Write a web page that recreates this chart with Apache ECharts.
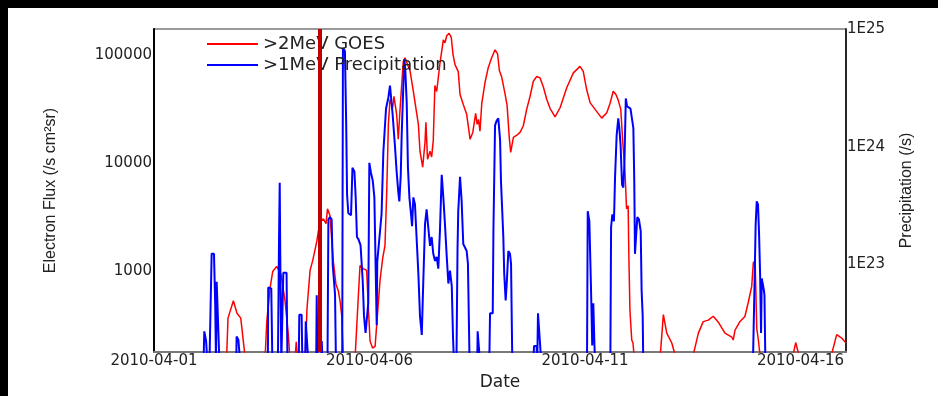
<!DOCTYPE html>
<html>
<head>
<meta charset="utf-8">
<script src="https://cdn.jsdelivr.net/npm/echarts@6/dist/echarts.min.js"></script>
<style>
  html, body { margin: 0; padding: 0; background: #000; }
  #chart { position: absolute; left: 8px; top: 8px; width: 930px; height: 388px; background: #fff; }
</style>
</head>
<body>
<div id="chart"></div>
<script>
// hours since 2010-04-01 00:00 UT
const tickLabels = ['2010-04-01', '2010-04-06', '2010-04-11', '2010-04-16'];
const eventHour = 92.1;

// >2MeV GOES electron flux, [hour, flux]; 150 = below the axis
const goesFlux = [
  [0, 150], [40.4, 150], [41.2, 365], [44.2, 528], [46.2, 405], [48.3, 365], [50.9, 150],
  [61.8, 150], [62.8, 342], [64.6, 689], [66.1, 986], [68.3, 1100], [70.7, 927], [72.9, 537], [74.8, 256], [75.7, 150],
  [78.5, 150], [79.2, 220], [79.9, 150],
  [84.1, 150], [85.2, 451], [86.9, 1010], [88.4, 1250], [90.6, 1860], [92.4, 2850], [94.3, 3030], [95.8, 2730],
  [96.6, 3750], [98.0, 3240], [98.9, 1990], [99.8, 1250], [101.3, 750], [102.7, 646], [103.6, 523], [104.5, 389], [105.5, 150],
  [111.9, 150], [113.8, 594], [114.7, 1120], [116.5, 1050], [118.4, 1010], [119.3, 480], [120.3, 224], [121.7, 193],
  [123.1, 200], [124.0, 315], [125.8, 798], [127.3, 1300], [128.6, 1710], [129.6, 5500], [130.5, 22700], [131.4, 38500],
  [132.9, 32500], [133.6, 41100], [135.1, 28100], [136.0, 16500], [137.0, 31200], [138.8, 86300], [139.8, 93800],
  [142.6, 70200], [144.4, 45900], [145.4, 44900], [147.2, 22700], [148.1, 12800], [149.6, 9120], [150.9, 15500],
  [151.4, 23700], [152.3, 10800], [153.7, 12800], [154.6, 11300], [155.5, 16200], [156.4, 51900], [157.4, 45700],
  [158.3, 44700], [159.2, 82600], [161.1, 137000], [162.0, 129000], [163.0, 150000], [164.3, 158000], [165.5, 145000],
  [166.5, 100000], [167.6, 80900], [169.4, 69800], [170.4, 42900], [172.2, 34700], [174.1, 28100], [176.0, 16500],
  [177.5, 19100], [179.1, 28700], [179.9, 22700], [180.7, 25200], [181.5, 19600], [182.5, 35400], [184.3, 55300],
  [186.1, 75900], [188.0, 93800], [189.9, 111000], [191.3, 102000], [192.3, 71300], [193.6, 62100], [195.4, 43800],
  [196.6, 34000], [197.8, 17200], [198.6, 12500], [200.1, 17200], [202.0, 18000], [203.8, 19100], [205.6, 21900],
  [207.5, 31200], [209.4, 41300], [211.2, 56800], [213.1, 62800], [214.9, 61100], [216.8, 50200], [218.7, 38500],
  [220.5, 31900], [223.3, 26600], [226.1, 32300], [229.8, 49400], [233.5, 67900], [237.2, 78000], [239.0, 70200],
  [240.9, 47600], [242.8, 36000], [245.6, 31200], [249.3, 25900], [252.1, 29100], [253.9, 35400], [255.7, 45900],
  [257.2, 42900], [258.5, 37800], [259.9, 31200], [260.9, 16500], [262.3, 7870], [263.1, 3750], [264.0, 4000],
  [264.4, 1360], [265.0, 432], [266.0, 229], [266.7, 215], [267.5, 150],
  [281.7, 150], [283.6, 393], [285.5, 265], [288.3, 215], [290.9, 150],
  [299.6, 150], [303.1, 265], [305.8, 339], [308.6, 350], [311.4, 380], [314.2, 335], [317.9, 265], [321.7, 244],
  [322.5, 229], [323.5, 283], [326.3, 340], [329.0, 378], [330.9, 512], [332.8, 718], [333.7, 1190], [334.7, 1250],
  [335.6, 295], [336.5, 229], [337.7, 150],
  [355.2, 150], [357.3, 217], [359.7, 150],
  [376.5, 150], [380.1, 257], [382.9, 239], [385.3, 215]
];

// >1MeV precipitation, [hour, rate /s]; 1.5e22 = below the axis
const precipRate = [
  [0, 1.5e22], [27.6, 1.5e22], [28.0, 2.70e22], [29.0, 2.24e22], [29.7, 1.5e22],
  [30.9, 1.5e22], [31.3, 3.05e22], [32.1, 1.23e23], [33.4, 1.23e23], [34.1, 4.41e22], [34.5, 1.5e22], [34.9, 7.11e22], [35.9, 6.88e22], [36.4, 1.5e22],
  [45.8, 1.5e22], [46.0, 2.44e22], [47.0, 2.28e22], [47.9, 1.5e22],
  [63.4, 1.5e22], [63.6, 6.37e22], [65.3, 6.25e22], [65.9, 1.5e22],
  [69.0, 1.5e22], [69.6, 1.58e23], [70.0, 4.95e23], [70.3, 1.16e23], [70.9, 1.5e22],
  [71.7, 1.5e22], [72.0, 8.51e22], [73.8, 8.51e22], [74.3, 1.5e22],
  [80.6, 1.5e22], [80.9, 3.73e22], [82.2, 3.73e22], [82.6, 1.5e22],
  [84.2, 1.5e22], [84.5, 3.28e22], [85.6, 3.24e22], [85.9, 1.5e22],
  [90.3, 1.5e22], [90.6, 5.46e22], [91.0, 1.5e22],
  [93.1, 1.5e22], [93.4, 2.23e22], [93.8, 1.5e22],
  [96.6, 1.5e22], [97.1, 2.42e23], [98.0, 2.52e23], [98.9, 2.42e23], [99.5, 9.93e22], [100.8, 5.56e22], [101.3, 1.5e22],
  [104.8, 1.5e22], [105.2, 6.89e24], [106.3, 6.50e24], [107.0, 1.61e24], [107.5, 3.93e23], [108.2, 2.72e23],
  [109.7, 2.62e23], [110.5, 6.62e23], [111.6, 6.13e23], [112.3, 3.71e23], [113.0, 1.71e23], [113.8, 1.64e23],
  [115.0, 1.46e23], [116.2, 7.30e22], [116.9, 3.71e22], [117.8, 2.62e22], [118.3, 2.52e22], [119.3, 4.67e22],
  [119.9, 7.30e23], [120.8, 6.01e23], [121.8, 5.15e23], [122.7, 3.71e23], [124.0, 3.05e22], [124.3, 1.05e23],
  [125.4, 1.01e23], [126.7, 2.67e23], [127.7, 9.02e23], [129.2, 2.11e24], [130.5, 2.62e24], [131.4, 3.30e24],
  [132.0, 3.43e24], [132.9, 1.85e24], [133.6, 1.85e24], [134.2, 9.94e23], [135.1, 6.13e23], [136.0, 4.16e23],
  [136.6, 3.43e23], [137.4, 5.78e23], [137.9, 1.25e24], [138.8, 3.18e24], [139.4, 5.56e24], [139.9, 4.58e24],
  [140.7, 2.38e24], [141.4, 6.62e23], [142.2, 3.71e23], [143.1, 2.67e23], [143.7, 2.11e23], [144.4, 3.71e23],
  [145.3, 3.24e23], [146.3, 1.58e23], [147.2, 8.36e22], [148.1, 3.64e22], [149.1, 2.52e22], [149.9, 6.88e22],
  [150.9, 2.20e23], [151.8, 2.94e23], [152.7, 2.07e23], [153.7, 1.44e23], [154.6, 1.71e23], [155.5, 1.23e23],
  [156.5, 1.07e23], [157.4, 1.16e23], [158.3, 9.20e22], [159.2, 1.92e23], [160.2, 5.78e23], [161.1, 3.71e23],
  [162.0, 2.20e23], [163.0, 1.16e23], [163.9, 6.88e22], [164.8, 8.85e22], [165.8, 6.50e22], [166.5, 2.38e22], [167.0, 1.5e22],
  [168.4, 1.5e22], [169.0, 1.36e23], [169.4, 2.83e23], [170.4, 5.56e23], [171.3, 3.43e23], [172.2, 1.49e23],
  [174.1, 1.30e23], [174.8, 1.01e23], [175.7, 1.5e22],
  [180.0, 1.5e22], [180.2, 2.70e22], [181.2, 2.70e22], [181.5, 1.5e22],
  [186.7, 1.5e22], [187.1, 3.85e22], [188.6, 3.85e22], [189.0, 2.00e23], [189.9, 1.52e24], [190.8, 1.67e24],
  [191.7, 1.74e24], [192.7, 1.14e24], [193.2, 5.05e23], [193.9, 2.83e23], [194.5, 1.71e23], [195.0, 8.36e22],
  [195.8, 4.95e22], [196.4, 6.88e22], [197.3, 1.30e23], [198.2, 1.23e23], [198.8, 1.01e23], [199.5, 1.5e22],
  [211.2, 1.5e22], [211.6, 2.03e22], [213.0, 2.03e22], [213.4, 1.5e22], [213.8, 3.85e22], [214.9, 3.85e22], [215.6, 1.5e22],
  [241.1, 1.5e22], [241.5, 2.83e23], [242.4, 2.33e23], [243.3, 6.50e22], [244.0, 2.05e22], [244.6, 4.67e22], [245.2, 2.14e22], [245.6, 1.5e22],
  [254.1, 1.5e22], [254.5, 2.07e23], [255.2, 2.67e23], [256.1, 2.33e23], [256.7, 5.46e23], [257.6, 1.25e24],
  [258.5, 1.74e24], [259.1, 1.44e24], [259.8, 1.03e24], [260.6, 4.77e23], [261.3, 4.50e23], [261.9, 7.02e23],
  [262.7, 2.57e24], [263.4, 2.20e24], [264.5, 2.25e24], [265.3, 2.11e24], [266.0, 2.16e24], [266.9, 1.44e24],
  [267.4, 5.25e23], [267.8, 1.23e23], [269.1, 2.52e23], [270.0, 2.42e23], [271.0, 1.92e23], [271.5, 6.01e22],
  [272.1, 3.64e22], [272.4, 1.5e22],
  [333.5, 1.5e22], [334.3, 6.01e22], [335.0, 2.20e23], [335.6, 3.43e23], [336.3, 3.24e23], [336.9, 1.81e23],
  [337.5, 7.89e22], [338.0, 2.62e22], [338.4, 7.59e22], [338.9, 6.88e22], [339.6, 6.01e22], [339.9, 5.46e22], [340.4, 1.5e22],
  [385.3, 1.5e22]
];

const chart = echarts.init(document.getElementById('chart'));
const labelFont = { fontFamily: 'DejaVu Sans', fontSize: 15, color: '#222' };

chart.setOption({
  animation: false,
  grid: { left: 146, top: 21, right: 92, bottom: 42, show: true, borderColor: '#7a7a7a', borderWidth: 1.5 },
  legend: {
    left: 194, top: 21, orient: 'vertical', itemGap: 1,
    itemWidth: 51, itemHeight: 2, itemTextGap: 8, icon: 'rect',
    textStyle: { fontFamily: 'DejaVu Sans', fontSize: 18, color: '#222', lineHeight: 20 },
    data: ['>2MeV GOES', '>1MeV Precipitation']
  },
  xAxis: {
    type: 'value', min: 0, max: 385.3, interval: 120,
    name: 'Date', nameLocation: 'middle', nameGap: 20,
    nameTextStyle: { fontFamily: 'DejaVu Sans', fontSize: 17, color: '#222' },
    axisLine: { lineStyle: { color: '#7a7a7a', width: 2 } },
    axisTick: { show: false },
    splitLine: { show: false },
    axisLabel: Object.assign({
      margin: 2, showMaxLabel: false,
      formatter: v => tickLabels[Math.round(v / 120)] || ''
    }, labelFont)
  },
  yAxis: [{
    type: 'log', min: 177, max: 173000,
    name: 'Electron Flux (/s cm²sr)', nameLocation: 'middle', nameGap: 95, nameRotate: 90,
    nameTextStyle: { fontFamily: 'Liberation Sans', fontSize: 16, color: '#222' },
    axisLine: { show: true, lineStyle: { color: '#000', width: 2 } },
    axisTick: { show: false },
    splitLine: { show: false },
    axisLabel: Object.assign({
      margin: 2, showMinLabel: false, showMaxLabel: false,
      formatter: v => String(Math.round(v))
    }, labelFont)
  }, {
    type: 'log', min: 1.8e22, max: 1e25, position: 'right',
    name: 'Precipitation (/s)', nameLocation: 'middle', nameGap: 53, nameRotate: 90,
    nameTextStyle: { fontFamily: 'Liberation Sans', fontSize: 16, color: '#222' },
    axisLine: { show: true, lineStyle: { color: '#000', width: 1.5 } },
    axisTick: { show: false },
    splitLine: { show: false },
    axisLabel: Object.assign({
      margin: 1, showMinLabel: false,
      formatter: v => '1E' + Math.round(Math.log10(v))
    }, labelFont)
  }],
  series: [{
    name: '>2MeV GOES', type: 'line', yAxisIndex: 0,
    data: goesFlux, showSymbol: false, symbol: 'none', clip: true,
    lineStyle: { color: '#ff0000', width: 1.5 }, itemStyle: { color: '#ff0000' }
  }, {
    name: '>1MeV Precipitation', type: 'line', yAxisIndex: 1,
    data: precipRate, showSymbol: false, symbol: 'none', clip: true,
    lineStyle: { color: '#0000ff', width: 2 }, itemStyle: { color: '#0000ff' },
    markLine: {
      silent: true, symbol: ['none', 'none'], label: { show: false },
      lineStyle: { color: '#c00000', width: 4, type: 'solid' },
      data: [{ xAxis: eventHour }]
    }
  }]
});
</script>
</body>
</html>
